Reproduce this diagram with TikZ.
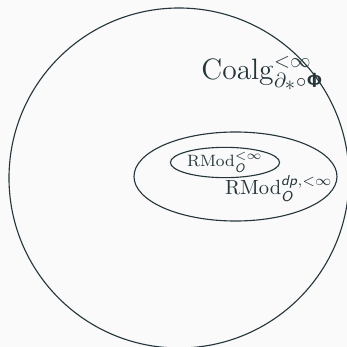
\documentclass[tikz,border=0pt]{standalone}
\usepackage{xcolor}
\usepackage{amsmath}
\usepackage{tikz}
\usetikzlibrary{positioning,shapes.geometric}
\DeclareMathAlphabet{\mathsfit}{OT1}{cmss}{m}{sl}
\DeclareMathAlphabet{\mathsfbf}{OT1}{cmss}{bx}{n}
\definecolor{stInk}{HTML}{26363C}
\definecolor{stBack}{HTML}{FAFAFA}
\tikzset{
  st-set/.style={draw=stInk, line width=0.55pt},
  st-inner/.style={st-set, ellipse, inner sep=0.4pt, text=stInk,
    font=\footnotesize},
  st-label/.style={text=stInk, inner sep=0pt}
}
\begin{document}
\begin{tikzpicture}[x=0.4878pt, y=-0.4878pt]
\fill[stBack] (0,0) rectangle (347,347);
\useasboundingbox (0,0) rectangle (347,347);
\clip (0,0) rectangle (347,347);
% sets
\draw[st-set] (179,178) circle [radius=170];
\draw[st-set] (235.5,176.5) ellipse [x radius=101.5, y radius=44.5];
\node[st-inner] (rmod) at (225,162.5)
  {$\mathrm{RMod}_{\mathsfit{O}}^{<\infty}$};

% labels
\node[st-label, font=\Large, anchor=base west] (coalg) at (201,80)
  {$\mathrm{Coalg}_{\partial_{\scriptstyle\ast}\circ\mathsfbf{\Phi}}^{<\infty}$};
\node[st-label, anchor=base east] (rmoddp) at (333,195)
  {$\mathrm{RMod}_{\mathsfit{O}}^{\mathsfit{dp},<\infty}$};
\end{tikzpicture}
\end{document}
